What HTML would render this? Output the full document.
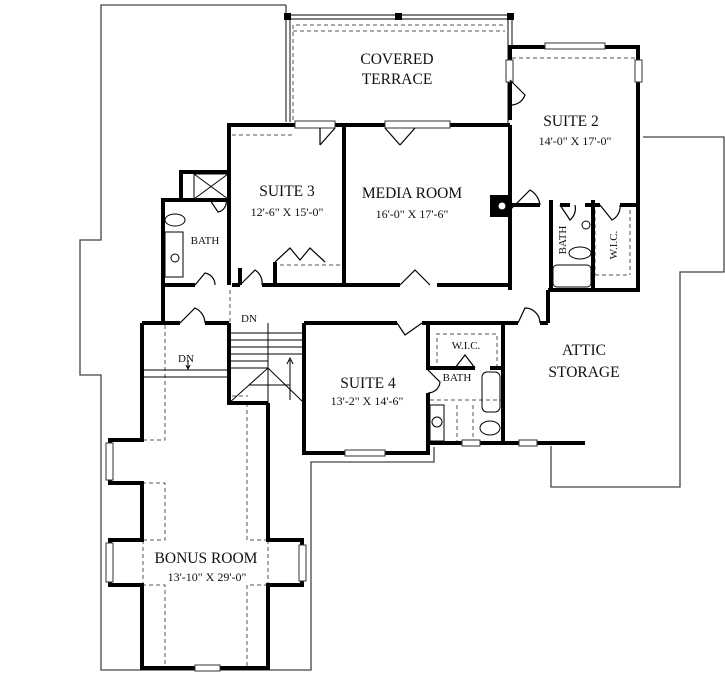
<!DOCTYPE html>
<html><head><meta charset="utf-8"><style>
html,body{margin:0;padding:0;background:#fff;}
svg{display:block;}
text{font-family:"Liberation Serif",serif;fill:#111;}
</style></head><body>
<svg width="725" height="673" viewBox="0 0 725 673" xmlns="http://www.w3.org/2000/svg">
<rect width="725" height="673" fill="#fff"/>
<!-- roof outlines -->
<g fill="none" stroke="#444" stroke-width="1.3">
<polyline points="286,5 101,5 101,240 80,240 80,375 101,375 101,670 311,670 311,462 434,462 434,447"/>
<polyline points="643,137 724,137 724,272 680,272 680,487 551,487 551,446"/>
<line x1="286" y1="5" x2="286" y2="122"/>
<line x1="290" y1="19" x2="290" y2="122"/>
</g>
<!-- terrace -->
<g fill="none" stroke="#333" stroke-width="1.2">
<line x1="286" y1="15" x2="512" y2="15"/>
<line x1="286" y1="19" x2="508" y2="19"/>
<line x1="512" y1="15" x2="512" y2="47"/>
<line x1="508" y1="19" x2="508" y2="125"/>
</g>
<rect x="284" y="13" width="7" height="7" fill="#000"/>
<rect x="395" y="13" width="7" height="7" fill="#000"/>
<rect x="507" y="13" width="7" height="7" fill="#000"/>
<g fill="none" stroke="#555" stroke-width="1" stroke-dasharray="4,3">
<polyline points="293,120 293,25 505,25"/>
<line x1="293" y1="31" x2="505" y2="31"/>
<line x1="232" y1="135" x2="292" y2="135"/>
<line x1="512" y1="58" x2="636" y2="58"/>
<line x1="595" y1="210" x2="595" y2="275"/>
<line x1="630" y1="210" x2="630" y2="275"/>
<line x1="595" y1="275" x2="630" y2="275"/>
<line x1="280" y1="265" x2="340" y2="265"/>
<!-- hall dashed -->
<line x1="230" y1="290" x2="230" y2="323"/>
<!-- bonus dashed -->
<polyline points="165,325 165,440 142,440"/>
<polyline points="142,483 165,483 165,540 142,540"/>
<polyline points="142,585 165,585 165,668"/>
<polyline points="247,403 247,540 268,540"/>
<polyline points="268,585 247,585 247,668"/>
<line x1="143" y1="540" x2="143" y2="585"/>
<line x1="268" y1="540" x2="268" y2="585"/>
<line x1="232" y1="396" x2="248" y2="396"/>
<!-- suite 4 bath -->
<polyline points="437,370 437,334 497,334 497,370"/>
<line x1="430" y1="400" x2="503" y2="400"/>
<line x1="457" y1="405" x2="457" y2="443"/>
<line x1="473" y1="405" x2="473" y2="443"/>
</g>
<!-- walls -->
<g fill="none" stroke="#000" stroke-width="4" stroke-linejoin="miter">
<!-- suite 2 -->
<polyline points="510,120 510,47 638,47 638,290 548,290"/>
<line x1="510" y1="125" x2="510" y2="290"/>
<line x1="551" y1="200" x2="551" y2="290"/>
<line x1="593" y1="200" x2="593" y2="290"/>
<polyline points="510,205 540,205"/><polyline points="560,205 570,205"/><polyline points="585,205 600,205"/><polyline points="620,205 638,205"/>
<!-- media/suite3 top -->
<polyline points="229,285 229,125 295,125"/>
<line x1="335" y1="125" x2="385" y2="125"/>
<line x1="450" y1="125" x2="510" y2="125"/>
<line x1="344" y1="125" x2="344" y2="285"/>
<!-- corridor top wall -->
<line x1="163" y1="285" x2="195" y2="285"/>
<line x1="232" y1="285" x2="240" y2="285"/>
<line x1="262" y1="285" x2="400" y2="285"/>
<line x1="437" y1="285" x2="510" y2="285"/>
<!-- bath left -->
<polyline points="181,200 181,172 229,172"/>
<polyline points="229,200 163,200 163,323"/>
<line x1="240" y1="285" x2="240" y2="268"/>
<line x1="275" y1="285" x2="275" y2="262"/>
<!-- corridor bottom/right -->
<line x1="548" y1="290" x2="548" y2="323"/>
<line x1="142" y1="323" x2="180" y2="323"/>
<line x1="205" y1="323" x2="229" y2="323"/>
<line x1="304" y1="323" x2="397" y2="323"/>
<line x1="422" y1="323" x2="518" y2="323"/>
<line x1="540" y1="323" x2="548" y2="323"/>
<!-- bonus room -->
<polyline points="142,323 142,440 110,440 110,483 142,483 142,540 110,540 110,585 142,585 142,668 268,668 268,585 302,585 302,540 268,540 268,403"/>
<polyline points="229,323 229,403 268,403"/>
<!-- suite 4 -->
<polyline points="304,323 304,453 428,453 428,443 585,443"/>
<polyline points="428,323 428,370"/>
<line x1="428" y1="393" x2="428" y2="443"/>
<line x1="503" y1="323" x2="503" y2="443"/>
<line x1="428" y1="368" x2="475" y2="368"/>
<line x1="490" y1="368" x2="503" y2="368"/>
</g>
<!-- windows -->
<g fill="#fff" stroke="#333" stroke-width="1">
<rect x="295" y="121" width="40" height="7"/>
<rect x="385" y="121" width="65" height="7"/>
<rect x="545" y="43" width="60" height="6"/>
<rect x="635" y="60" width="7" height="22"/>
<rect x="506" y="60" width="7" height="22"/>
<rect x="106" y="443" width="7" height="37"/>
<rect x="106" y="543" width="7" height="39"/>
<rect x="299" y="545" width="7" height="36"/>
<rect x="195" y="665" width="25" height="6"/>
<rect x="345" y="450" width="40" height="6"/>
<rect x="462" y="440" width="18" height="6"/>
<rect x="519" y="440" width="18" height="6"/>
</g>
<!-- doors -->
<g fill="none" stroke="#000" stroke-width="1.2">
<path d="M510,80 L525,95 A15,15 0 0 1 512,105"/>
<path d="M320,128 L320,145 M335,128 L320,145"/>
<path d="M385,128 L400,145 M415,128 L400,145"/>
<path d="M510,210 L530,190 A20,20 0 0 1 540,205"/>
<path d="M560,205 L570,220 A15,15 0 0 0 575,205"/>
<path d="M600,205 L612,220 A15,15 0 0 0 620,205"/>
<path d="M400,285 L415,270 L430,285"/>
<path d="M275,262 L290,248 L300,260 L310,248 L325,262"/>
<path d="M240,285 L255,270 A15,15 0 0 1 262,285"/>
<path d="M195,285 L205,273 A12,12 0 0 1 215,285"/>
<path d="M180,323 L195,308 A17,17 0 0 1 205,323"/>
<path d="M397,323 L405,335 L422,323"/>
<path d="M518,323 L525,308 A15,15 0 0 1 540,323"/>
<path d="M428,370 L440,382 A12,12 0 0 1 428,393"/>
<path d="M475,368 L465,355 L455,368"/>
<path d="M210,200 L218,212 A10,10 0 0 0 226,200"/>
</g>
<!-- stairs -->
<g stroke="#000" stroke-width="1" fill="none">
<line x1="268" y1="323" x2="268" y2="370"/>
<line x1="230" y1="333" x2="268" y2="333"/><line x1="230" y1="340" x2="268" y2="340"/><line x1="230" y1="347" x2="268" y2="347"/><line x1="230" y1="354" x2="268" y2="354"/><line x1="230" y1="361" x2="268" y2="361"/><line x1="230" y1="368" x2="268" y2="368"/>
<line x1="268" y1="333" x2="304" y2="333"/><line x1="268" y1="340" x2="304" y2="340"/><line x1="268" y1="347" x2="304" y2="347"/><line x1="268" y1="354" x2="304" y2="354"/>
<path d="M229,403 L268,368 L304,403"/>
<line x1="268" y1="368" x2="268" y2="403"/>
<line x1="249" y1="385" x2="290" y2="385"/>
<path d="M290,400 L290,360 M287,364 L290,358 L293,364"/>
<line x1="142" y1="370" x2="229" y2="370"/>
<line x1="142" y1="377" x2="229" y2="377"/>
<path d="M188,360 L188,368 M186,365 L188,369 L190,365"/>
<!-- shower X -->
<path d="M194,174 L228,199 M228,174 L194,199"/>
<rect x="194" y="174" width="34" height="25"/>
<!-- fixtures -->
<ellipse cx="175" cy="220" rx="10" ry="6"/>
<rect x="165" y="232" width="18" height="45"/>
<circle cx="175" cy="258" r="4"/>
<rect x="553" y="265" width="38" height="22" rx="4"/>
<ellipse cx="580" cy="253" rx="11" ry="6"/>
<circle cx="586" cy="225" r="4"/>
<rect x="482" y="372" width="18" height="40" rx="5"/>
<ellipse cx="490" cy="428" rx="10" ry="7"/>
<circle cx="437" cy="422" r="5"/>
<rect x="430" y="405" width="14" height="36"/>
</g>
<rect x="490" y="195" width="20" height="22" fill="#000"/>
<circle cx="502" cy="206" r="3.5" fill="#fff"/>
<!-- labels -->
<g text-anchor="middle" font-size="15.5">
<text x="397" y="64">COVERED</text>
<text x="397" y="84">TERRACE</text>
<text x="571" y="126">SUITE 2</text>
<text x="287" y="196">SUITE 3</text>
<text x="412" y="198">MEDIA ROOM</text>
<text x="368" y="388">SUITE 4</text>
<text x="584" y="355">ATTIC</text>
<text x="584" y="377">STORAGE</text>
<text x="206" y="563">BONUS ROOM</text>
</g>
<g text-anchor="middle" font-size="12">
<text x="575" y="145">14'-0" X 17'-0"</text>
<text x="287" y="216">12'-6" X 15'-0"</text>
<text x="412" y="218">16'-0" X 17'-6"</text>
<text x="367" y="405">13'-2" X 14'-6"</text>
<text x="207" y="581">13'-10" X 29'-0"</text>
</g>
<g text-anchor="middle" font-size="11">
<text x="205" y="244">BATH</text>
<text x="466" y="349">W.I.C.</text>
<text x="457" y="381">BATH</text>
<text x="249" y="322">DN</text>
<text x="186" y="362">DN</text>
<text transform="translate(566,240) rotate(-90)">BATH</text>
<text transform="translate(617,245) rotate(-90)">W.I.C.</text>
</g>
</svg>
</body></html>
